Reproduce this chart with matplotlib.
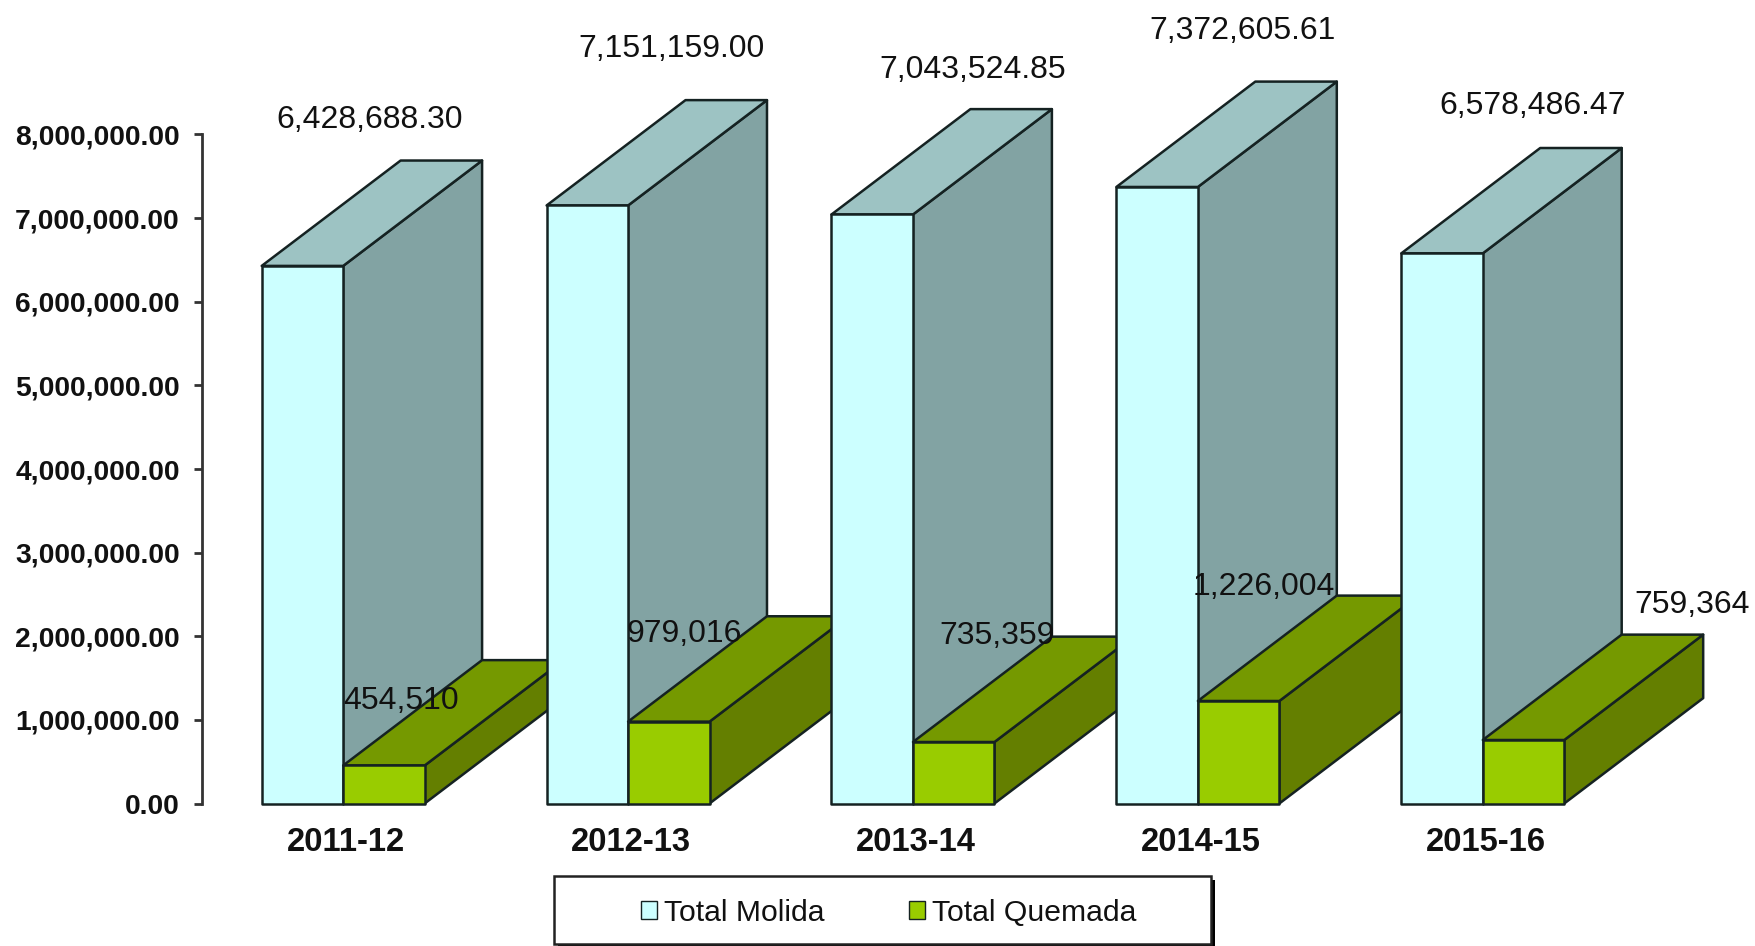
"""Total Molida / Total Quemada pseudo-3D bars."""

import matplotlib

matplotlib.use("Agg")
from matplotlib import pyplot as plt
from matplotlib.patches import Patch, Polygon, Rectangle
from matplotlib.transforms import ScaledTranslation

seasons = ["2011-12", "2012-13", "2013-14", "2014-15", "2015-16"]
molida = [6428688.30, 7151159.00, 7043524.85, 7372605.61, 6578486.47]
quemada = [454510, 979016, 735359, 1226004, 759364]
molida_labels = ["6,428,688.30", "7,151,159.00", "7,043,524.85", "7,372,605.61", "6,578,486.47"]
quemada_labels = ["454,510", "979,016", "735,359", "1,226,004", "759,364"]
y_ticks = [0, 1000000, 2000000, 3000000, 4000000, 5000000, 6000000, 7000000, 8000000]

# label centres relative to each bar's front-top corner, in pixels
molida_offsets = [(108, 146), (125, 156), (141, 144), (126, 156), (131, 147)]
quemada_offsets = [(58, 64), (56, 88), (84, 106), (66, 114), (209, 135)]

BAR_W = 0.286
DEPTH_X = 0.4876
DEPTH_Y = 1260000
EDGE = "#152222"
FONT = "Liberation Sans"
W, H = 1756, 946

MOLIDA_COLORS = ("#ccffff", "#9dc3c3", "#82a3a3")
QUEMADA_COLORS = ("#99cc00", "#759900", "#647f00")


def draw_box(axis, left, right, height, colors):
    front, top, side = colors
    corners_side = [
        (right, 0),
        (right + DEPTH_X, DEPTH_Y),
        (right + DEPTH_X, height + DEPTH_Y),
        (right, height),
    ]
    corners_top = [
        (left, height),
        (left + DEPTH_X, height + DEPTH_Y),
        (right + DEPTH_X, height + DEPTH_Y),
        (right, height),
    ]
    corners_front = [(left, 0), (left, height), (right, height), (right, 0)]
    for points, color in ((corners_side, side), (corners_top, top), (corners_front, front)):
        axis.add_patch(
            Polygon(points, closed=True, facecolor=color, edgecolor=EDGE, linewidth=1.8,
                    joinstyle="round", clip_on=False)
        )


figure = plt.figure(figsize=(17.56, 9.46), dpi=100)
axis = figure.add_axes((202 / W, (H - 803.5) / H, (W - 202) / W, 669 / H))
axis.patch.set_alpha(0)
axis.set_xlim(-0.4955, 4.959)
axis.set_ylim(0, 8000000)

for i in range(len(seasons)):
    draw_box(axis, i - BAR_W, i, molida[i], MOLIDA_COLORS)
    draw_box(axis, i, i + BAR_W, quemada[i], QUEMADA_COLORS)

for i in range(len(seasons)):
    axis.annotate(molida_labels[i], (i - BAR_W, molida[i]), xytext=molida_offsets[i],
                  textcoords="offset pixels", ha="center", va="center",
                  fontsize=23, family=FONT, color="#111111", annotation_clip=False)
    axis.annotate(quemada_labels[i], (i, quemada[i]), xytext=quemada_offsets[i],
                  textcoords="offset pixels", ha="center", va="center",
                  fontsize=23, family=FONT, color="#111111", annotation_clip=False)

for name in ("top", "right", "bottom"):
    axis.spines[name].set_visible(False)
axis.spines["left"].set_linewidth(2)
axis.spines["left"].set_color("#333333")
axis.set_yticks(y_ticks)
axis.set_yticklabels([f"{tick:,.2f}" for tick in y_ticks], fontsize=20.3, family=FONT,
                     fontweight="bold", color="#111111")
axis.tick_params(axis="y", length=6, width=2, color="#333333", pad=10)
axis.set_xticks(range(len(seasons)))
axis.set_xticklabels(seasons, fontsize=23.6, family=FONT, fontweight="bold", color="#111111")
axis.tick_params(axis="x", length=0, pad=17)
for label in axis.get_xticklabels():
    label.set_transform(label.get_transform() + ScaledTranslation(0.03, 0, figure.dpi_scale_trans))

# legend box drawn by hand, it is much wider than its entries
figure.add_artist(Rectangle((558 / W, (H - 948) / H), 657 / W, 68 / H,
                            transform=figure.transFigure, facecolor="black", edgecolor="none"))
figure.add_artist(Rectangle((554 / W, (H - 944) / H), 657 / W, 68 / H,
                            transform=figure.transFigure, facecolor="white",
                            edgecolor="#222222", linewidth=1.8))
legend = figure.legend(
    handles=[
        Patch(facecolor=MOLIDA_COLORS[0], edgecolor=EDGE, label="Total Molida"),
        Patch(facecolor=QUEMADA_COLORS[0], edgecolor=EDGE, label="Total Quemada"),
    ],
    loc="center",
    bbox_to_anchor=(889 / W, (H - 913) / H),
    ncol=2,
    frameon=False,
    handlelength=0.52,
    handleheight=0.55,
    handletextpad=0.25,
    columnspacing=2.8,
    prop={"family": FONT, "size": 21.7},
    labelcolor="#111111",
)
legend.set_zorder(5)

figure.savefig("out.png", dpi=100)
plt.close(figure)
